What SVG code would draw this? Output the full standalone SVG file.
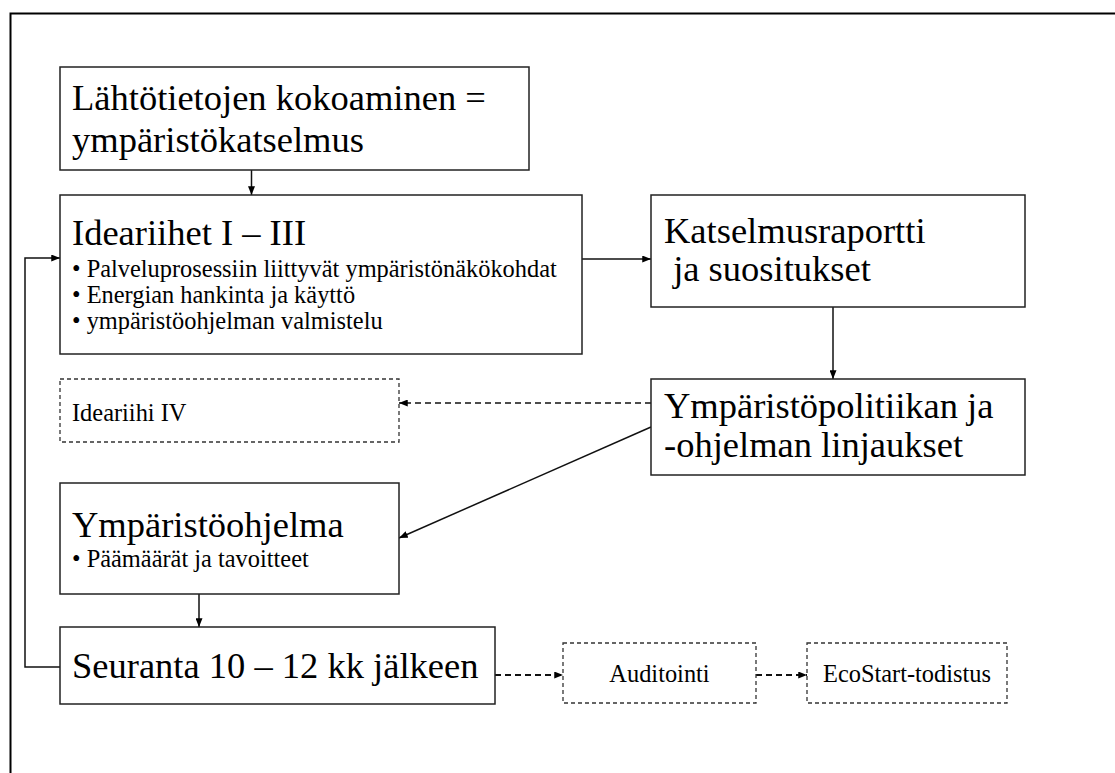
<svg xmlns="http://www.w3.org/2000/svg" width="1115" height="773" viewBox="0 0 1115 773">
<style>
text{font-family:"Liberation Serif","Times New Roman",serif;fill:#000}
.big{font-size:36.5px}
.sm{font-size:24.4px}
.box{fill:#fff;stroke:#222;stroke-width:1.5}
.dbox{fill:#fff;stroke:#333;stroke-width:1.3;stroke-dasharray:4 3}
.con{fill:none;stroke:#111;stroke-width:1.5}
.dcon{fill:none;stroke:#111;stroke-width:1.3;stroke-dasharray:6 4}
.dcon2{fill:none;stroke:#111;stroke-width:2;stroke-dasharray:6 4}
</style>
<defs>
<marker id="ah" viewBox="0 0 10 8" refX="10" refY="4" markerWidth="9" markerHeight="7" markerUnits="userSpaceOnUse" orient="auto">
<path d="M0,0 L10,4 L0,8 Z" fill="#000"/>
</marker>
</defs>
<rect width="1115" height="773" fill="#fff"/>
<path d="M10.5,773 V13.5 H1115" fill="none" stroke="#000" stroke-width="2"/>
<g id="connectors">
<path class="con" d="M251.5,170 V195" marker-end="url(#ah)"/>
<path class="con" d="M582,259 H651" marker-end="url(#ah)"/>
<path class="con" d="M833,307 V379" marker-end="url(#ah)"/>
<path class="dcon" d="M651,403 H399" marker-end="url(#ah)"/>
<path class="con" d="M651,427 L399,538" marker-end="url(#ah)"/>
<path class="con" d="M199,594 V627" marker-end="url(#ah)"/>
<path class="con" d="M60,667 H25 V258 H60" marker-end="url(#ah)"/>
<path class="dcon2" d="M495,675 H563" marker-end="url(#ah)"/>
<path class="dcon2" d="M756,675 H807" marker-end="url(#ah)"/>
</g>
<g id="n1">
<rect class="box" x="60" y="67" width="469" height="103"/>
<text class="big" x="72" y="110">Lähtötietojen kokoaminen =</text>
<text class="big" x="72" y="152">ympäristökatselmus</text>
</g>
<g id="n2">
<rect class="box" x="60" y="195" width="522" height="159"/>
<text class="big" x="72" y="245">Ideariihet I – III</text>
<text class="sm" x="72" y="277">• Palveluprosessiin liittyvät ympäristönäkökohdat</text>
<text class="sm" x="72" y="303">• Energian hankinta ja käyttö</text>
<text class="sm" x="72" y="329">• ympäristöohjelman valmistelu</text>
</g>
<g id="n3">
<rect class="box" x="651" y="195" width="374" height="112"/>
<text class="big" x="664" y="243">Katselmusraportti</text>
<text class="big" x="664" y="281" xml:space="preserve"> ja suositukset</text>
</g>
<g id="n4">
<rect class="box" x="651" y="379" width="374" height="96"/>
<text class="big" x="664" y="418">Ympäristöpolitiikan ja</text>
<text class="big" x="664" y="457">-ohjelman linjaukset</text>
</g>
<g id="n5">
<rect class="dbox" x="60" y="379" width="339" height="63"/>
<text class="sm" x="72" y="421">Ideariihi IV</text>
</g>
<g id="n6">
<rect class="box" x="60" y="483" width="339" height="111"/>
<text class="big" x="72" y="537">Ympäristöohjelma</text>
<text class="sm" x="72" y="567">• Päämäärät ja tavoitteet</text>
</g>
<g id="n7">
<rect class="box" x="60" y="627" width="435" height="77"/>
<text class="big" x="72" y="678">Seuranta 10 – 12 kk jälkeen</text>
</g>
<g id="n8">
<rect class="dbox" x="563" y="643" width="193" height="60"/>
<text class="sm" x="659.5" y="682" text-anchor="middle">Auditointi</text>
</g>
<g id="n9">
<rect class="dbox" x="807" y="643" width="200" height="60"/>
<text class="sm" x="907" y="682" text-anchor="middle">EcoStart-todistus</text>
</g>
</svg>
